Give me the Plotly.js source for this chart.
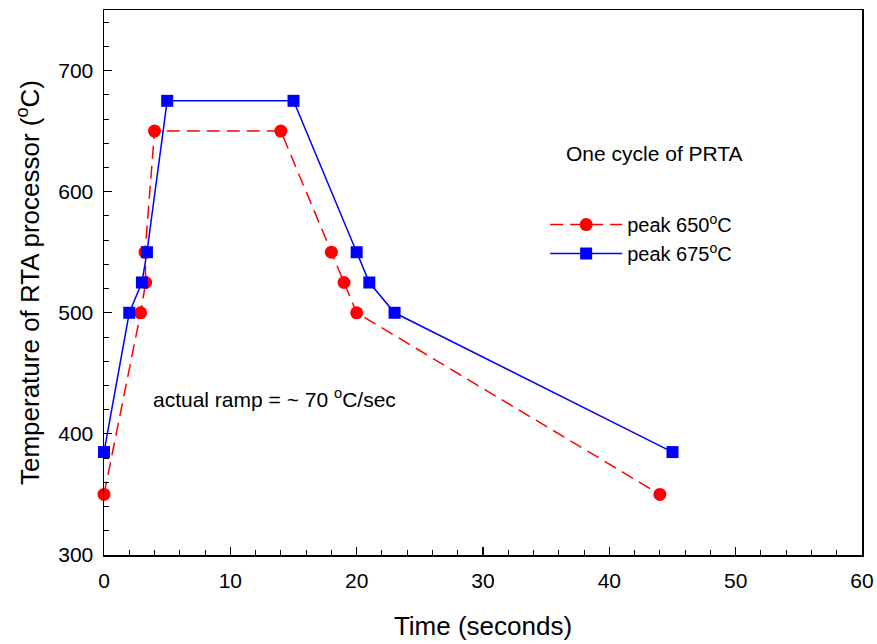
<!DOCTYPE html>
<html><head><meta charset="utf-8">
<script src="https://cdn.plot.ly/plotly-3.0.1.min.js"></script>
<style>body{margin:0;background:#fff}#chart{width:877px;height:644px}</style>
</head><body><div id="chart"></div>
<script>
const timeA = [0, 2.9, 3.3, 3.25, 4, 14, 18, 19, 20, 44];
const tempA = [350, 500, 525, 550, 650, 650, 550, 525, 500, 350];
const timeB = [0, 2, 3, 3.4, 5, 15, 20, 21, 23, 45];
const tempB = [385, 500, 525, 550, 675, 675, 550, 525, 500, 385];
const nameA = 'peak 650<sup>o</sup>C';
const nameB = 'peak 675<sup>o</sup>C';
const xTitle = 'Time (seconds)';
const yTitle = 'Temperature of RTA processor (<sup>o</sup>C)';
const note1 = 'One cycle of PRTA';
const note2 = 'actual ramp = ~ 70 <sup>o</sup>C/sec';

const font = 'Liberation Sans, Arial, sans-serif';
const traces = [
  {x: timeA, y: tempA, name: nameA, mode: 'lines+markers', cliponaxis: false,
   line: {color: '#ff0000', width: 1.5, dash: '13px,7px'},
   marker: {symbol: 'circle', size: 13, color: '#ff0000'}},
  {x: timeB, y: tempB, name: nameB, mode: 'lines+markers', cliponaxis: false,
   line: {color: '#0000ff', width: 1.5},
   marker: {symbol: 'square', size: 12, color: '#0000ff'}}
];
const axisCommon = {
  showgrid: false, zeroline: false, showline: true, linecolor: '#000', linewidth: 1.5,
  mirror: true, ticks: 'inside', ticklen: 8, tickwidth: 1.2, tickcolor: '#000',
  tickfont: {family: font, size: 21, color: '#000'},
  minor: {ticks: 'inside', ticklen: 5, tickwidth: 1, tickcolor: '#000'}
};
const layout = {
  width: 877, height: 644,
  margin: {l: 104, r: 15, t: 10, b: 89},
  paper_bgcolor: '#fff', plot_bgcolor: '#fff',
  font: {family: font, color: '#000'},
  xaxis: Object.assign({}, axisCommon, {range: [0, 60], dtick: 10, tick0: 0, ticklabelstandoff: 6,
    minor: Object.assign({}, axisCommon.minor, {dtick: 2}),
    title: {text: xTitle, font: {family: font, size: 26}, standoff: 26}}),
  yaxis: Object.assign({}, axisCommon, {range: [300, 750], dtick: 100, tick0: 300, ticklabelstandoff: 5,
    minor: Object.assign({}, axisCommon.minor, {dtick: 20}),
    title: {text: yTitle, font: {family: font, size: 26}, standoff: 11}}),
  showlegend: true,
  legend: {x: 0.582, y: 0.642, xanchor: 'left', yanchor: 'top', bgcolor: 'rgba(0,0,0,0)',
    font: {family: font, size: 20}, itemwidth: 72, tracegroupgap: 0},
  annotations: [
    {text: note1, xref: 'paper', yref: 'paper', x: 0.726, y: 0.7376, xanchor: 'center', yanchor: 'middle',
     showarrow: false, font: {family: font, size: 21}},
    {text: note2, xref: 'paper', yref: 'paper', x: 0.0615, y: 0.288, xanchor: 'left', yanchor: 'middle',
     showarrow: false, font: {family: font, size: 21}}
  ]
};
Plotly.newPlot('chart', traces, layout, {displayModeBar: false, staticPlot: true});
</script></body></html>
